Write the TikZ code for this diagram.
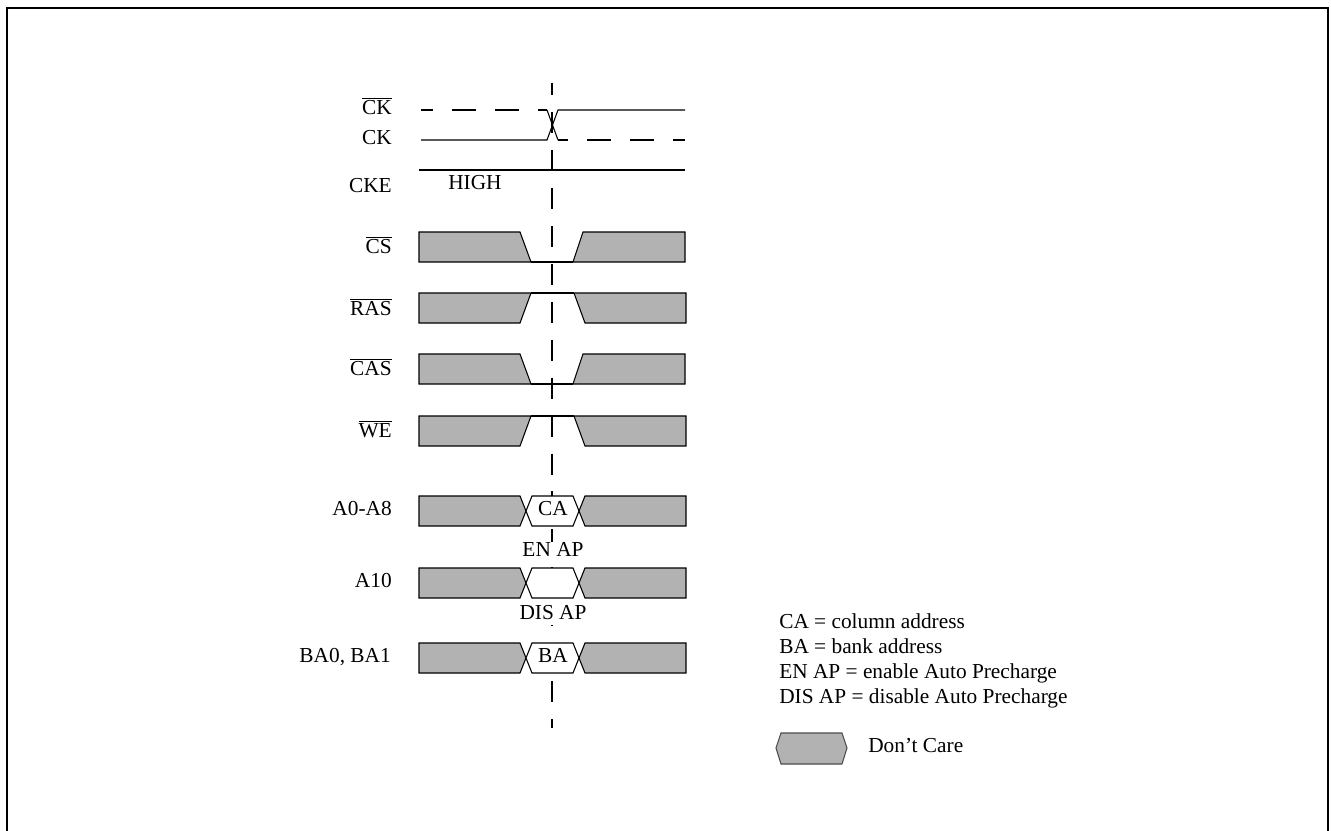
\documentclass[tikz,border=0pt]{standalone}
\usepackage{fontspec}
\setmainfont{Liberation Serif}
\usetikzlibrary{positioning}
\tikzset{node distance=18.75pt, auto}
\tikzset{
  sig/.style={line width=0.8pt},
  dc/.style={draw, fill=black!30, line width=0.8pt},
  bus/.style={draw, fill=white, line width=0.8pt},
  txt/.style={inner sep=0pt, text height=0.66em, text depth=0pt},
  signame/.style={txt, anchor=east},
  clkdash/.style={dash pattern=on 18pt off 14.25pt},
  refline/.style={dash pattern=on 15.75pt off 12.7pt, dash phase=6.6pt},
}
\newcommand{\nbar}[1]{$\overline{\mbox{#1}}$}

\begin{document}
\begin{tikzpicture}[x=0.75pt, y=-0.75pt, font=\fontsize{16}{19}\selectfont]
  \useasboundingbox (0,0) rectangle (1331,831);
  \draw[sig] (7,831) -- (7,8) -- (1328,8) -- (1328,831);

  % reference edge
  \coordinate (edgetop) at (552,83);
  \coordinate (edgebot) at (552,728);
  \draw[sig, refline] (edgetop) -- (edgebot);

  % signal names
  \node[signame] (ckn) at (392,110) {\nbar{CK}};
  \node[signame] (ck) at (392,140) {CK};
  \node[signame] (cke) at (392,188) {CKE};
  \node[signame] (cs) at (392,249) {\nbar{CS}};
  \node[signame] (ras) at (392,311) {\nbar{RAS}};
  \node[signame] (cas) at (392,371) {\nbar{CAS}};
  \node[signame] (we) at (392,433) {\nbar{WE}};
  \node[signame] (addr) at (392,511) {A0-A8};
  \node[signame] (aten) at (392,583) {A10};
  \node[signame] (bank) at (391,658) {BA0, BA1};

  % clock pair
  \draw[sig] (421,140) -- (547,140) -- (558,110) -- (685,110);
  \draw[sig, clkdash, dash phase=9pt] (421,110) -- (547,110);
  \draw[sig] (547,110) -- (558,140);
  \draw[sig, clkdash, dash phase=10.5pt] (558,140) -- (685,140);

  % CKE
  \draw[sig] (419,170) -- (685,170);
  \node[txt, anchor=west] (high) at (448,185) {HIGH};

  % CS
  \draw[dc] (419,232) -- (520,232) -- (531,262) -- (419,262) -- cycle;
  \draw[sig] (531,262) -- (573,262);
  \draw[dc] (583,232) -- (685,232) -- (685,262) -- (573,262) -- cycle;
  % RAS
  \draw[dc] (419,293) -- (531,293) -- (520,323) -- (419,323) -- cycle;
  \draw[sig] (531,293) -- (574,293);
  \draw[dc] (574,293) -- (686,293) -- (686,323) -- (585,323) -- cycle;
  % CAS
  \draw[dc] (419,354) -- (520,354) -- (531,384) -- (419,384) -- cycle;
  \draw[sig] (531,384) -- (573,384);
  \draw[dc] (583,354) -- (685,354) -- (685,384) -- (573,384) -- cycle;
  % WE
  \draw[dc] (419,416) -- (531,416) -- (520,446) -- (419,446) -- cycle;
  \draw[sig] (531,416) -- (574,416);
  \draw[dc] (574,416) -- (686,416) -- (686,446) -- (585,446) -- cycle;

  % A0-A8
  \draw[dc] (419,496) -- (520,496) -- (526,511) -- (520,526) -- (419,526) -- cycle;
  \draw[bus] (526,511) -- (532,496) -- (573,496) -- (579,511) -- (573,526) -- (532,526) -- cycle;
  \draw[dc] (579,511) -- (585,496) -- (686,496) -- (686,526) -- (585,526) -- cycle;
  \node[txt] (ca) at (553,511) {CA};
  \node[txt, fill=white, inner sep=4pt] (enap) at (553,552) {EN AP};
  % A10
  \draw[dc] (419,568) -- (520,568) -- (526,583) -- (520,598) -- (419,598) -- cycle;
  \draw[bus] (526,583) -- (532,568) -- (573,568) -- (579,583) -- (573,598) -- (532,598) -- cycle;
  \draw[dc] (579,583) -- (585,568) -- (686,568) -- (686,598) -- (585,598) -- cycle;
  \node[txt, fill=white, inner sep=4pt] (disap) at (553,615) {DIS AP};
  % BA0, BA1
  \draw[dc] (419,643) -- (520,643) -- (526,658) -- (520,673) -- (419,673) -- cycle;
  \draw[bus] (526,658) -- (532,643) -- (573,643) -- (579,658) -- (573,673) -- (532,673) -- cycle;
  \draw[dc] (579,658) -- (585,643) -- (686,643) -- (686,673) -- (585,673) -- cycle;
  \node[txt] (ba) at (553,658) {BA};

  % legend
  \node[txt, anchor=west] (lca) at (779,624) {CA = column address};
  \node[txt, below=18.75pt of lca.west, anchor=west] (lba) {BA = bank address};
  \node[txt, below=18.75pt of lba.west, anchor=west] (len) {EN AP = enable Auto Precharge};
  \node[txt, below=18.75pt of len.west, anchor=west] (ldis) {DIS AP = disable Auto Precharge};
  \draw[dc, draw=black!70] (776,748) -- (781,733) -- (842,733) -- (847,748) -- (842,764) -- (781,764) -- cycle;
  \node[txt, anchor=west] (ldc) at (868,748) {Don't Care};
\end{tikzpicture}
\end{document}
